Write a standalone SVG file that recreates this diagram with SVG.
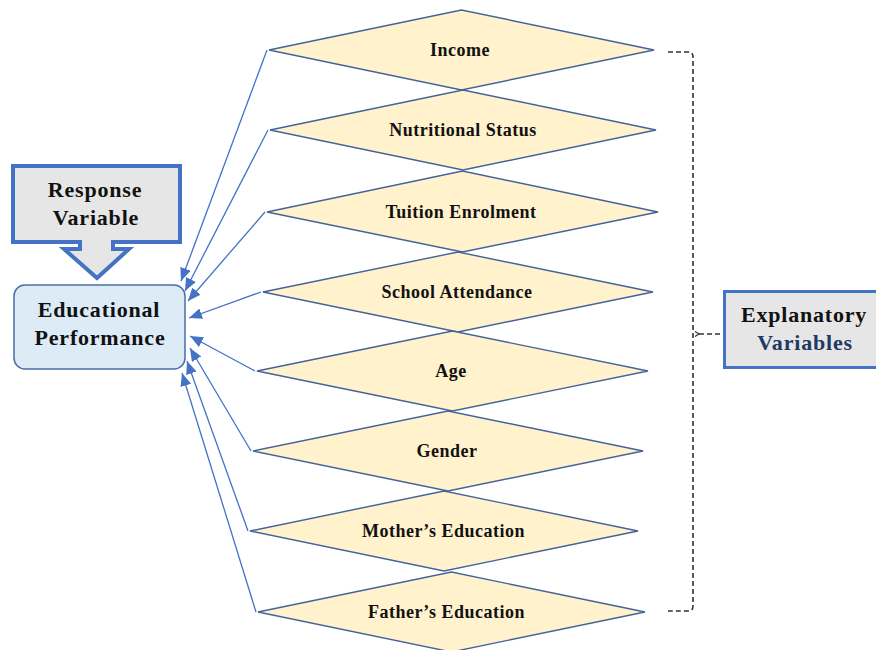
<svg xmlns="http://www.w3.org/2000/svg" width="876" height="650" viewBox="0 0 876 650">
  <style>
    .dia { fill: #fff2cc; stroke: #44639a; stroke-width: 1.4; }
    .dlbl { font-family: "Liberation Serif", "Times New Roman", serif; font-weight: bold; font-size: 18px; letter-spacing: 0.5px; fill: #111; text-anchor: middle; }
    .big { font-family: "Liberation Serif", "Times New Roman", serif; font-weight: bold; font-size: 22px; letter-spacing: 0.8px; fill: #111; text-anchor: middle; }
    .conn { stroke: #4472c4; stroke-width: 1.3; fill: none; marker-end: url(#ah); }
    .dash { stroke: #333; stroke-width: 1.6; fill: none; stroke-dasharray: 5 3; }
  </style>
  <defs>
    <marker id="ah" markerUnits="userSpaceOnUse" markerWidth="14" markerHeight="12" refX="13" refY="5.5" orient="auto">
      <path d="M0,0 L13,5.5 L0,11 Z" fill="#4472c4"/>
    </marker>
  </defs>
  <rect width="876" height="650" fill="#ffffff"/>

  <g id="response-variable">
    <path d="M13,166 H180 V242 H113 V249 H129 L97,278 L64,249 H80 V242 H13 Z" fill="#e7e6e6" stroke="#4472c4" stroke-width="4" stroke-linejoin="miter"/>
    <text class="big" x="95" y="197">Response</text>
    <text class="big" x="96" y="225">Variable</text>
  </g>

  <g id="educational-performance">
    <rect x="14" y="285" width="171" height="84" rx="11" fill="#ddebf7" stroke="#4a6fa5" stroke-width="1.5"/>
    <text class="big" x="99" y="317">Educational</text>
    <text class="big" x="100" y="345">Performance</text>
  </g>

  <g id="income">
    <polygon class="dia" points="269,50 461.5,10 654,50 461.5,90"/>
    <text class="dlbl" x="460" y="55.5">Income</text>
  </g>
  <g id="nutritional-status">
    <polygon class="dia" points="270,130 463,90 656,130 463,170"/>
    <text class="dlbl" x="463" y="135.5">Nutritional Status</text>
  </g>
  <g id="tuition-enrolment">
    <polygon class="dia" points="267,212 462.5,171 658,212 462.5,252"/>
    <text class="dlbl" x="461" y="217.5">Tuition Enrolment</text>
  </g>
  <g id="school-attendance">
    <polygon class="dia" points="263,292 458,252 653,292 458,332"/>
    <text class="dlbl" x="457" y="297.5">School Attendance</text>
  </g>
  <g id="age">
    <polygon class="dia" points="257,371 452.5,331 648,371 452.5,411"/>
    <text class="dlbl" x="451" y="376.5">Age</text>
  </g>
  <g id="gender">
    <polygon class="dia" points="253,451 448,411 643,451 448,491"/>
    <text class="dlbl" x="447" y="456.5">Gender</text>
  </g>
  <g id="mothers-education">
    <polygon class="dia" points="250,531 444,491 638,531 444,571"/>
    <text class="dlbl" x="443.5" y="536.5">Mother’s Education</text>
  </g>
  <g id="fathers-education">
    <polygon class="dia" points="258,612 451.5,572 645,612 451.5,652"/>
    <text class="dlbl" x="446.5" y="617.5">Father’s Education</text>
  </g>

  <g id="explanatory-variables">
    <rect x="724.5" y="291.5" width="162" height="76" fill="#e7e6e6" stroke="#4472c4" stroke-width="3"/>
    <text class="big" x="804" y="322">Explanatory</text>
    <text class="big" x="805" y="350" style="fill:#1f3864">Variables</text>
  </g>

  <g id="connectors">
    <line class="conn" x1="267" y1="50" x2="181" y2="281"/>
    <line class="conn" x1="268" y1="130" x2="185" y2="291"/>
    <line class="conn" x1="265" y1="212" x2="188" y2="301"/>
    <line class="conn" x1="261" y1="292" x2="189" y2="318"/>
    <line class="conn" x1="255" y1="371" x2="190" y2="336"/>
    <line class="conn" x1="251" y1="451" x2="190" y2="348"/>
    <line class="conn" x1="248" y1="531" x2="187" y2="361"/>
    <line class="conn" x1="256" y1="612" x2="182" y2="373"/>
    <path class="dash" d="M668,52 H688 Q693,52 693,57 V606 Q693,611 688,611 H668"/>
    <path class="dash" d="M699,334 H723"/>
    <polyline points="695,331.5 699,334 695,336.5" fill="none" stroke="#333" stroke-width="1.2"/>
  </g>
</svg>
